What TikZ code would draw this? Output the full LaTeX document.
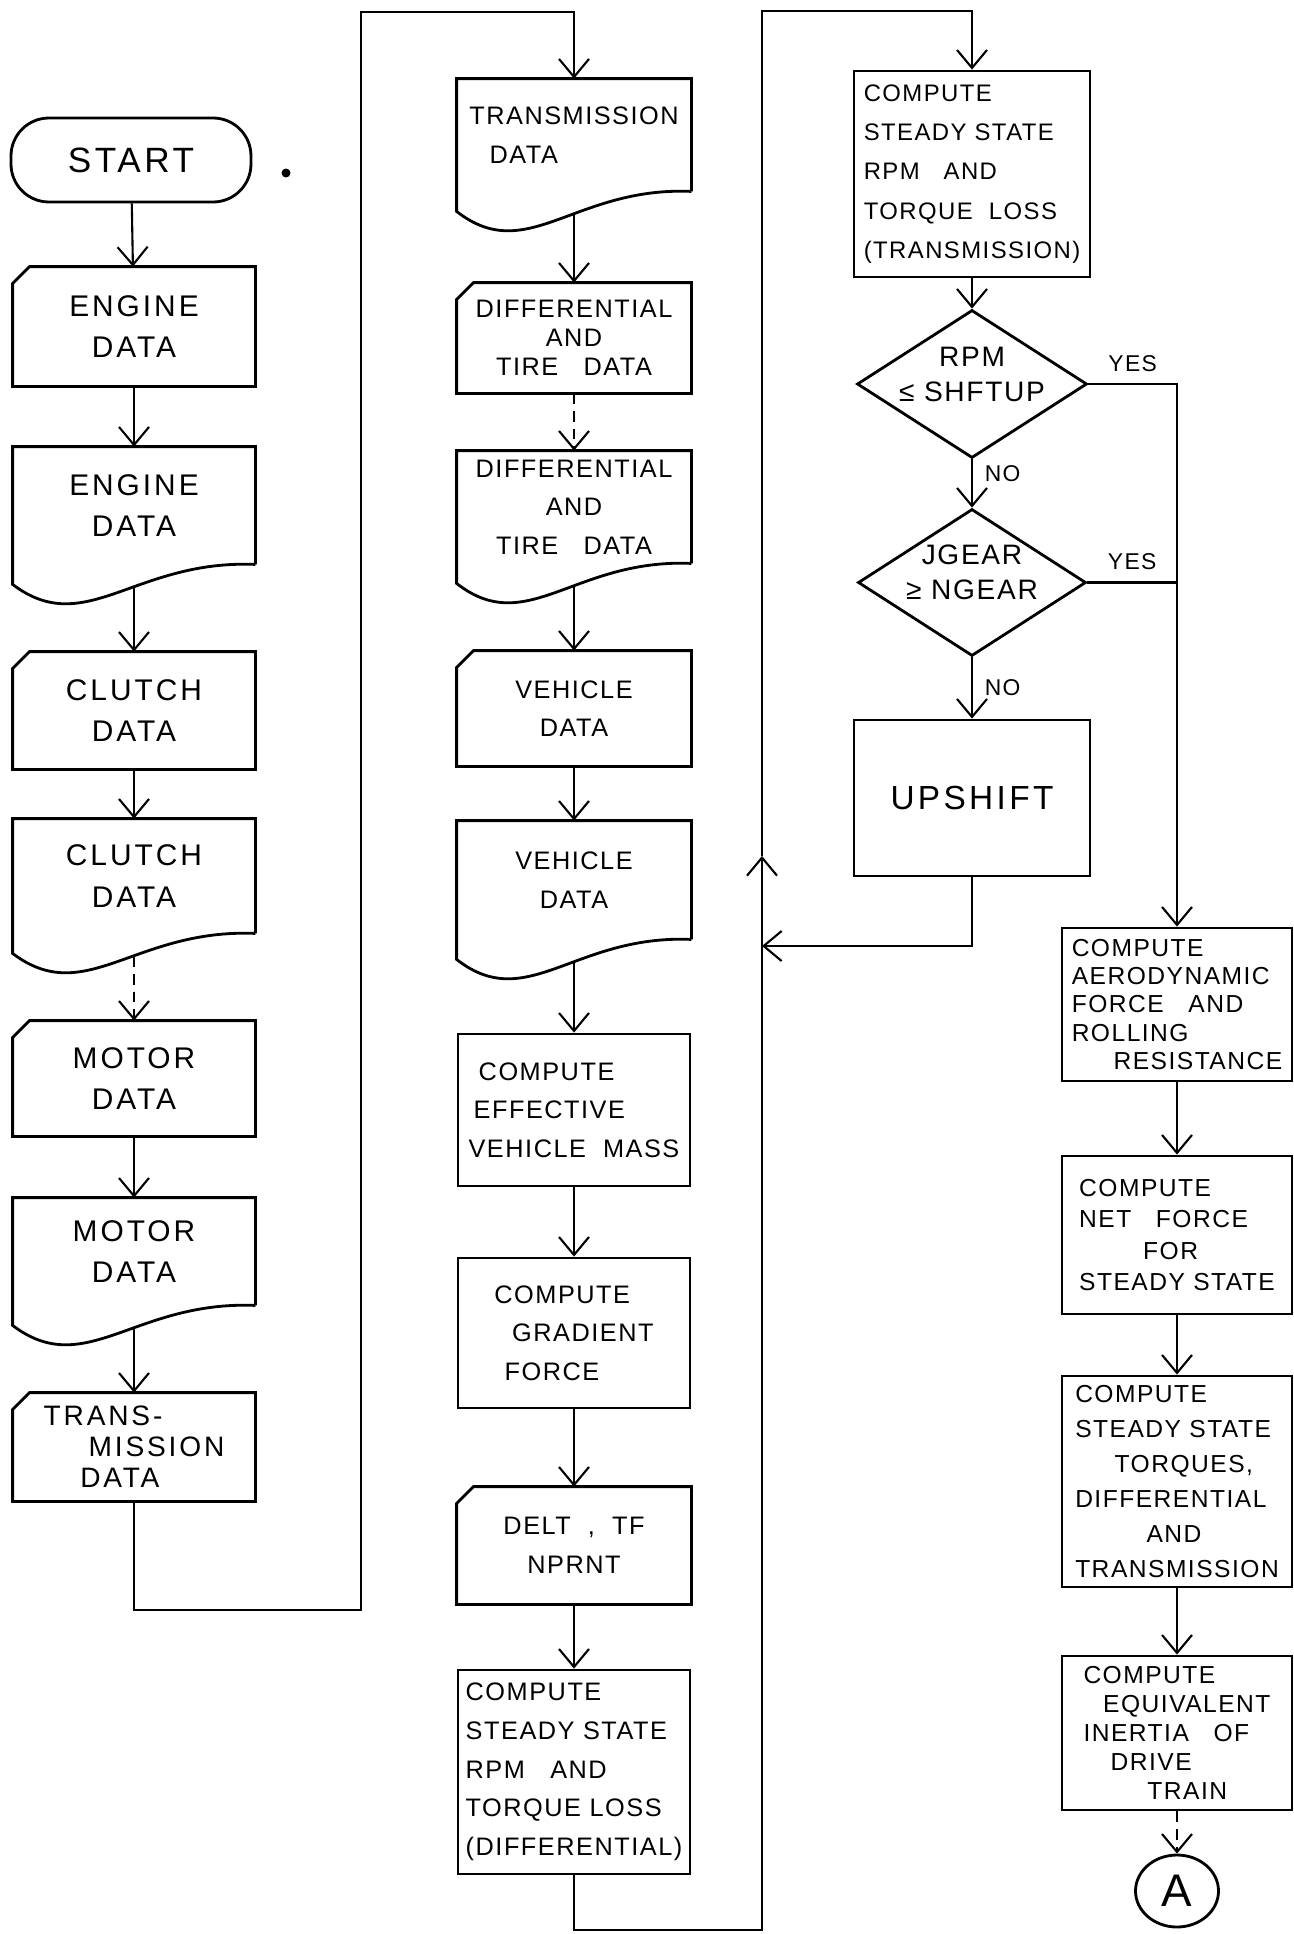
\documentclass[tikz,border=0pt]{standalone}
\usepackage{fontspec}
\setmainfont{Liberation Sans}[LetterSpace=6]
\newfontfamily\widefont{Liberation Sans}[LetterSpace=10]
\usetikzlibrary{calc,shapes.geometric,arrows.meta}
\newcommand{\fsz}[2]{\fontsize{#1}{#2}\selectfont}

\begin{document}
\begin{tikzpicture}[line width=0.8pt,
  item/.style={rectangle,inner sep=0,align=center},
  cola/.style={item,minimum width=2.4cm,font=\widefont\fsz{8.5}{11.8}},
  colb/.style={item,minimum width=2.32cm,font=\fsz{7.2}{11}},
  colc/.style={item,draw,minimum width=2.36cm,font=\fsz{6.8}{11.2}},
  cold/.style={item,draw,minimum width=2.3cm,align=left,font=\fsz{7}{9}},
  ask/.style={draw,diamond,inner xsep=-4mm,inner ysep=-2mm,text depth=0.2cm,align=center,font=\fsz{8}{10}},
  flow/.style={semithick,-{Straight Barb[length=1.8mm,width=3mm]}},
  brk/.style={dash pattern=on 3pt off 2pt},
  lbl/.style={font=\fsz{6.5}{7}}]

\useasboundingbox (0,0) rectangle (12.93,-19.34);

%input column
\node[item,draw,minimum width=2.4cm,minimum height=0.84cm,rounded corners=0.38cm,font=\widefont\fsz{10}{12}] (start) at (1.31,-1.60) {START};
\node[cola,minimum height=1.17cm] (eng1) at (1.34,-3.265) {ENGINE\\DATA};
\node[cola,minimum height=1.15cm] (eng2) at (1.34,-5.055) {ENGINE\\DATA};
\node[cola,minimum height=1.15cm] (clu1) at (1.34,-7.105) {CLUTCH\\DATA};
\node[cola,minimum height=1.12cm] (clu2) at (1.34,-8.76) {CLUTCH\\DATA};
\node[cola,minimum height=1.13cm] (mot1) at (1.34,-10.785) {MOTOR\\DATA};
\node[cola,minimum height=1.05cm] (mot2) at (1.34,-12.515) {MOTOR\\DATA};
\node[cola,minimum height=1.06cm,align=left,font=\widefont\fsz{8}{8.8}] (trm1) at (1.34,-14.47) {TRANS-\\\hspace*{1.6em}MISSION\\\hspace*{1.3em}DATA};
\fill (2.86,-1.73) circle (0.045);

%vehicle column
\node[colb,minimum height=1.10cm,align=left] (trm2) at (5.74,-1.35) {TRANSMISSION\\\hspace*{0.8em}DATA};
\node[colb,minimum height=1.08cm,font=\fsz{7.2}{8.3}] (dif1) at (5.74,-3.38) {DIFFERENTIAL\\AND\\TIRE\quad DATA};
\node[colb,minimum height=1.10cm] (dif2) at (5.74,-5.07) {DIFFERENTIAL\\AND\\TIRE\quad DATA};
\node[colb,minimum height=1.13cm] (veh1) at (5.74,-7.085) {VEHICLE\\DATA};
\node[colb,minimum height=1.16cm] (veh2) at (5.74,-8.80) {VEHICLE\\DATA};
\node[colb,draw,minimum height=1.52cm,align=left] (mass) at (5.74,-11.10) {\hspace*{0.4em}COMPUTE\\\hspace*{0.2em}EFFECTIVE\\VEHICLE\ \ MASS};
\node[colb,draw,minimum height=1.50cm,align=left] (grad) at (5.74,-13.33) {COMPUTE\\\hspace*{0.7em}GRADIENT\\\hspace*{0.4em}FORCE};
\node[colb,minimum height=1.15cm] (delt) at (5.74,-15.455) {DELT\ \ ,\ \ TF\\NPRNT};
\node[colb,draw,minimum height=2.04cm,align=left] (ssd) at (5.74,-17.72) {COMPUTE\\STEADY STATE\\RPM\quad AND\\TORQUE LOSS\\(DIFFERENTIAL)};

%gear shift column
\node[colc,minimum height=2.06cm,align=left] (sst) at (9.72,-1.74) {COMPUTE\\STEADY STATE\\RPM\quad AND\\TORQUE\ \ LOSS\\(TRANSMISSION)};
\node[ask,minimum width=2.30cm,minimum height=1.48cm] (q1) at (9.72,-3.84) {RPM\\≤ SHFTUP};
\node[ask,minimum width=2.28cm,minimum height=1.47cm] (q2) at (9.72,-5.825) {JGEAR\\≥ NGEAR};
\node[colc,minimum height=1.56cm,font=\widefont\fsz{9.5}{12}] (up) at (9.72,-7.98) {UPSHIFT};

%force and torque column
\node[cold,minimum height=1.53cm,font=\fsz{7}{8}] (aero) at (11.77,-10.045) {COMPUTE\\AERODYNAMIC\\FORCE\quad AND\\ROLLING\\\hspace*{1.7em}RESISTANCE};
\node[cold,minimum height=1.58cm] (net) at (11.77,-12.35) {COMPUTE\\NET\quad FORCE\\\hspace*{2.6em}FOR\\STEADY STATE};
\node[cold,minimum height=2.11cm,font=\fsz{7}{10}] (torq) at (11.77,-14.815) {COMPUTE\\STEADY STATE\\\hspace*{1.6em}TORQUES,\\DIFFERENTIAL\\\hspace*{2.9em}AND\\TRANSMISSION};
\node[cold,minimum height=1.54cm,font=\fsz{7}{8.2}] (inert) at (11.77,-17.33) {COMPUTE\\\hspace*{0.8em}EQUIVALENT\\INERTIA\quad OF\\\hspace*{1.1em}DRIVE\\\hspace*{2.6em}TRAIN};
\node[ellipse,draw,minimum width=0.83cm,minimum height=0.72cm,inner sep=0,font=\fsz{13}{14}] (A) at (11.77,-18.91) {A};

%card outlines
\foreach \n in {eng1,clu1,mot1,trm1,dif1,veh1,delt}
  \draw ($(\n.north west)+(0.17,0)$) -- (\n.north east) -- (\n.south east) -- (\n.south west) -- ($(\n.north west)+(0,-0.17)$) -- cycle;

%document outlines, wavy bottom
\foreach \n in {eng2,clu2,mot2,trm2,dif2,veh2}
{\draw (\n.south east) -- (\n.north east) -- (\n.north west) -- ($(\n.south west)+(0,-0.2)$)
   .. controls ($(\n.south west)!0.3!(\n.south east)+(0,-0.75)$) and ($(\n.south west)!0.5!(\n.south east)+(0,0.05)$) .. (\n.south east);
 \coordinate (\n-b) at ($(\n.south)+(0,-0.23)$);}

%loop points
\coordinate (lp1) at (3.61,-16.10);
\coordinate (lp2) at (3.61,-0.12);
\coordinate (lp3) at (7.62,-19.30);
\coordinate (lp4) at (7.62,-0.11);
\coordinate (back) at (7.62,-8.56);
\coordinate (join) at (7.62,-9.46);

\draw[flow] (start) -- (eng1);
\draw[flow] (eng1) -- (eng2);
\draw[flow] (eng2-b) -- (clu1);
\draw[flow] (clu1) -- (clu2);
\draw[flow,brk] (clu2-b) -- (mot1);
\draw[flow] (mot1) -- (mot2);
\draw[flow] (mot2-b) -- (trm1);
\draw[flow] (trm1) |- (lp1) -- (lp2) -| (trm2);

\draw[flow] (trm2-b) -- (dif1);
\draw[flow,brk] (dif1) -- (dif2);
\draw[flow] (dif2-b) -- (veh1);
\draw[flow] (veh1) -- (veh2);
\draw[flow] (veh2-b) -- (mass);
\draw[flow] (mass) -- (grad);
\draw[flow] (grad) -- (delt);
\draw[flow] (delt) -- (ssd);
\draw[flow] (ssd) |- (lp3) -- (back);
\draw[flow] (back) -- (lp4) -| (sst);

\draw[flow] (sst) -- (q1);
\draw[flow] (q1) -- node[lbl,right,pos=0.3] {NO} (q2);
\draw[flow] (q2) -- node[lbl,right] {NO} (up);
\draw[flow] (up) |- (join);
\draw[flow] (q1) -| node[lbl,above,pos=0.25] {YES} (aero);
\draw[semithick] (q2) -- node[lbl,above] {YES} (q2 -| aero);

\draw[flow] (aero) -- (net);
\draw[flow] (net) -- (torq);
\draw[flow] (torq) -- (inert);
\draw[flow,brk] (inert) -- (A);
\end{tikzpicture}
\end{document}
